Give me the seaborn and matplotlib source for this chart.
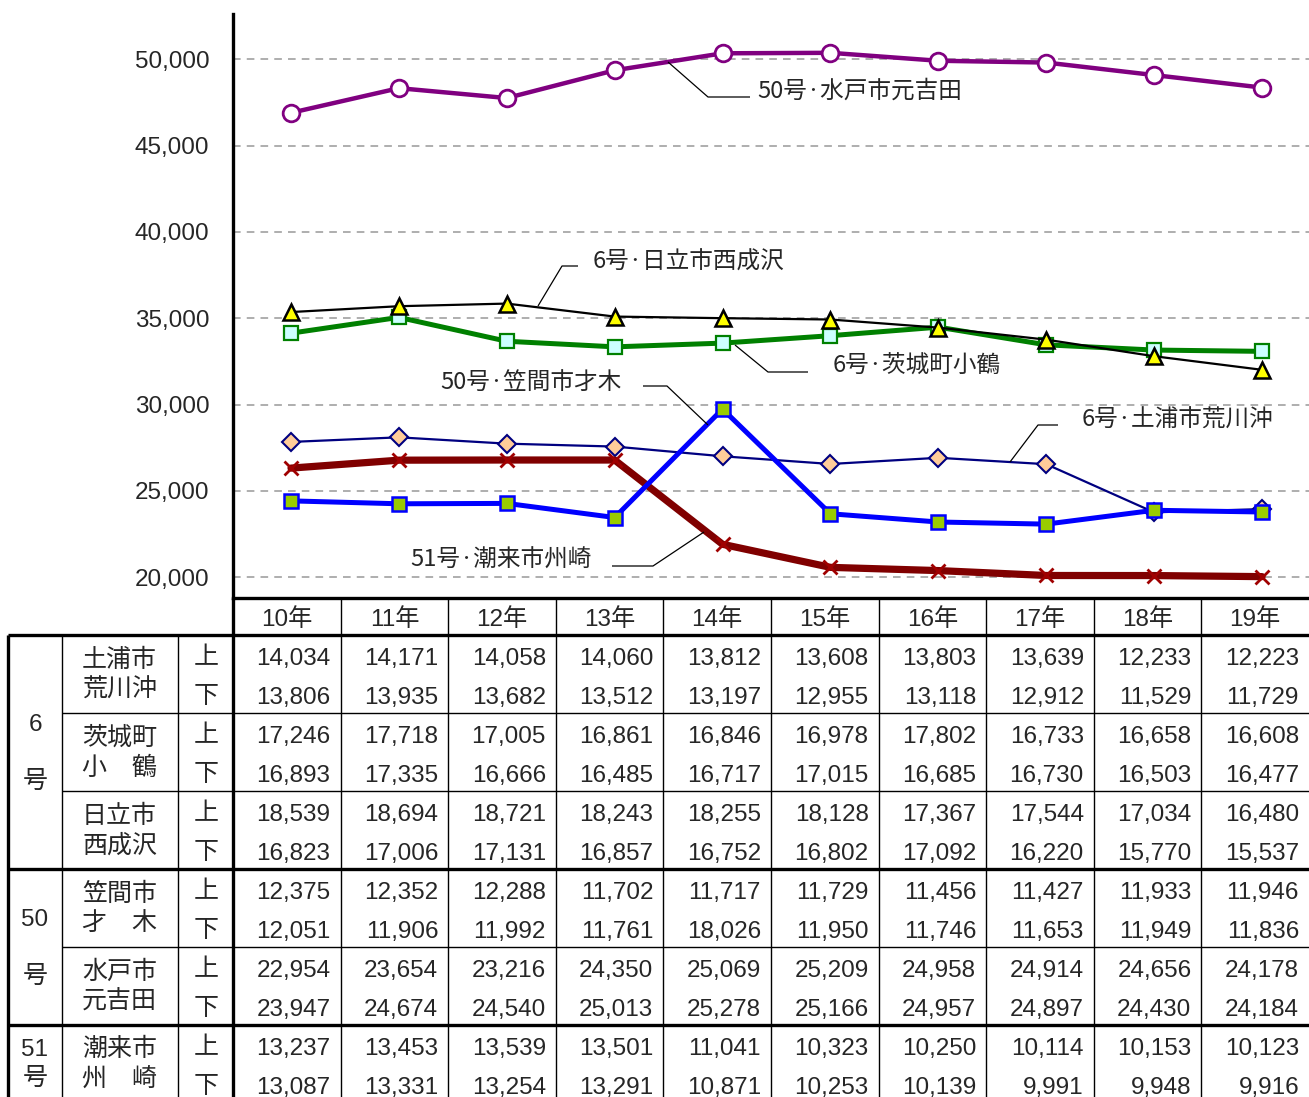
import matplotlib
matplotlib.use("Agg")
import matplotlib.pyplot as plt
import seaborn as sns
import pandas as pd

# ---------------- data ----------------
years = ['10年', '11年', '12年', '13年', '14年', '15年', '16年', '17年', '18年', '19年']

tsuchiura_up = [14034, 14171, 14058, 14060, 13812, 13608, 13803, 13639, 12233, 12223]
tsuchiura_dn = [13806, 13935, 13682, 13512, 13197, 12955, 13118, 12912, 11529, 11729]
ibaraki_up = [17246, 17718, 17005, 16861, 16846, 16978, 17802, 16733, 16658, 16608]
ibaraki_dn = [16893, 17335, 16666, 16485, 16717, 17015, 16685, 16730, 16503, 16477]
hitachi_up = [18539, 18694, 18721, 18243, 18255, 18128, 17367, 17544, 17034, 16480]
hitachi_dn = [16823, 17006, 17131, 16857, 16752, 16802, 17092, 16220, 15770, 15537]
kasama_up = [12375, 12352, 12288, 11702, 11717, 11729, 11456, 11427, 11933, 11946]
kasama_dn = [12051, 11906, 11992, 11761, 18026, 11950, 11746, 11653, 11949, 11836]
mito_up = [22954, 23654, 23216, 24350, 25069, 25209, 24958, 24914, 24656, 24178]
mito_dn = [23947, 24674, 24540, 25013, 25278, 25166, 24957, 24897, 24430, 24184]
itako_up = [13237, 13453, 13539, 13501, 11041, 10323, 10250, 10114, 10153, 10123]
itako_dn = [13087, 13331, 13254, 13291, 10871, 10253, 10139, 9991, 9948, 9916]

group_labels = [('6', '号'), ('50', '号'), ('51', '号')]
place_names = [('土浦市', '荒川沖'), ('茨城町', '小\u3000鶴'), ('日立市', '西成沢'),
               ('笠間市', '才\u3000木'), ('水戸市', '元吉田'), ('潮来市', '州\u3000崎')]
direction_labels = ['上', '下']
y_ticks = [20000, 25000, 30000, 35000, 40000, 45000, 50000]

series_labels = ['6号·土浦市荒川沖', '6号·茨城町小鶴', '6号·日立市西成沢',
                 '50号·笠間市才木', '50号·水戸市元吉田', '51号·潮来市州崎']

# ---------------- setup ----------------
sns.set_style("white")
plt.rcParams['font.family'] = ['Liberation Sans', 'Noto Sans CJK JP', 'DejaVu Sans']
CJK = ['Noto Sans CJK JP', 'DejaVu Sans']

W, H = 1309, 1097
fig = plt.figure(figsize=(W / 100, H / 100), dpi=100)

X0, XT = 233, 1309          # plot/table data area left/right (px)
Y_TOP, Y_AX = 14, 598        # plot top / plot bottom (px)
ax = fig.add_axes([X0 / W, 1 - Y_AX / H, (XT - X0) / W, (Y_AX - Y_TOP) / H])

ppk = 17.27  # pixels per 1000
step = (1262 - 291) / 9.0
ax.set_xlim(-(291 - X0) / step, 9 + (XT - 1262) / step)
ax.set_ylim(20000 - (Y_AX - 577.3) / ppk * 1000, 50000 + (59.3 - Y_TOP) / ppk * 1000)

x = list(range(len(years)))
rows = [
    (tsuchiura_up, tsuchiura_dn, dict(color='#000080', lw=1.6, marker='D', ms=9,
                                       mfc='#FFCC99', mec='#000080', mew=1.5), 3),
    (itako_up, itako_dn, dict(color='#800000', lw=5.2, marker='x', ms=10,
                               mfc='#A00000', mec='#A00000', mew=2), 4),
    (kasama_up, kasama_dn, dict(color='#0000FF', lw=3.6, marker='s', ms=10,
                                 mfc='#99CC00', mec='#0000FF', mew=1.8), 5),
    (ibaraki_up, ibaraki_dn, dict(color='#008000', lw=3.6, marker='s', ms=10,
                                   mfc='#CCFFFF', mec='#008000', mew=1.6), 6),
    (hitachi_up, hitachi_dn, dict(color='black', lw=1.6, marker='^', ms=12,
                                   mfc='#FFFF00', mec='black', mew=1.8), 7),
    (mito_up, mito_dn, dict(color='#800080', lw=3.2, marker='o', ms=12,
                             mfc='white', mec='#800080', mew=2), 8),
]
for up, dn, st, z in rows:
    tot = [a + b for a, b in zip(up, dn)]
    df = pd.DataFrame({'x': x, 'y': tot})
    sns.lineplot(data=df, x='x', y='y', ax=ax, color=st['color'], linewidth=st['lw'],
                 marker=st['marker'], markersize=st['ms'], markerfacecolor=st['mfc'],
                 markeredgecolor=st['mec'], markeredgewidth=st['mew'],
                 errorbar=None, sort=False, zorder=z)

ax.set_yticks(y_ticks)
ax.set_yticklabels([f'{v:,}' for v in y_ticks], fontsize=17.5)
ax.set_xticks([])
ax.set_xlabel('')
ax.set_ylabel('')
ax.tick_params(axis='y', length=0, pad=17)
ax.grid(axis='y', color='#999999', linestyle=(0, (5, 4)), linewidth=1.1)
ax.grid(axis='x', visible=False)
for s in ['top', 'right']:
    ax.spines[s].set_visible(False)
ax.spines['left'].set_linewidth(2.4)
ax.spines['left'].set_color('black')
ax.spines['bottom'].set_linewidth(2.4)
ax.spines['bottom'].set_color('black')
ax.patch.set_alpha(0)

# ---------------- overlay (pixel coords) ----------------
ov = fig.add_axes([0, 0, 1, 1], zorder=10)
ov.set_xlim(0, W)
ov.set_ylim(H, 0)
ov.axis('off')

def seg(pts, lw=1.0, c='black'):
    xs, ys = zip(*pts)
    ov.plot(xs, ys, color=c, lw=lw, solid_capstyle='butt', clip_on=False)

# annotations
ann = [
    (series_labels[4], [(668, 62), (708, 97), (750, 97)], (757, 91)),
    (series_labels[2], [(538, 306), (562, 266), (578, 266)], (593, 262)),
    (series_labels[1], [(735, 345), (768, 372), (808, 372)], (833, 366)),
    (series_labels[3], [(643, 386), (667, 386), (708, 425)], (440, 382)),
    (series_labels[0], [(1058, 425), (1038, 425), (1010, 462)], (1082, 420)),
    (series_labels[5], [(612, 566), (653, 566), (704, 532)], (410, 560)),
]
for txt, pts, (tx, ty) in ann:
    seg(pts, lw=0.9)
    ov.text(tx, ty, txt, fontsize=17, family=CJK, ha='left', va='center')

# table geometry
col_w = (XT - X0) / 10
RH = 38.95
R0 = 635
thick, thin = 2.4, 1.0

# header
for i, yl in enumerate(years):
    ov.text(X0 + col_w * (i + 0.5), 620, yl, fontsize=17.5, ha='center', va='center')

# numbers
all_rows = [tsuchiura_up, tsuchiura_dn, ibaraki_up, ibaraki_dn, hitachi_up, hitachi_dn,
            kasama_up, kasama_dn, mito_up, mito_dn, itako_up, itako_dn]
for r, vals in enumerate(all_rows):
    yc = R0 + RH * (r + 0.5) + 5
    for i, v in enumerate(vals):
        ov.text(X0 + col_w * (i + 1) - 10, yc, f'{v:,}', fontsize=17.5, ha='right', va='center')
    ov.text(206, yc - 2, direction_labels[r % 2], fontsize=18, family=CJK, ha='center', va='center')

# place names
for k, (a, b) in enumerate(place_names):
    yc = R0 + RH * (2 * k + 1)
    ov.text(82, yc - 14, a, fontsize=18, family=CJK, ha='left', va='center')
    ov.text(82, yc + 16, b, fontsize=18, family=CJK, ha='left', va='center')

# group labels
groups = [(0, 6), (6, 10), (10, 12)]
for (s, e), (a, b) in zip(groups, group_labels):
    yc = R0 + RH * (s + e) / 2
    off = 29 if e - s > 2 else 15
    ov.text(35, yc - off + 2, a, fontsize=17.5, ha='center', va='center')
    ov.text(35, yc + off, b, fontsize=18, family=CJK, ha='center', va='center')

# table lines
for i in range(1, 10):
    seg([(X0 + col_w * i, Y_AX), (X0 + col_w * i, H)], lw=thin)
seg([(62, R0), (62, H)], lw=thin)
seg([(178, R0), (178, H)], lw=thin)
for r in [2, 4, 8]:
    seg([(62, R0 + RH * r), (XT, R0 + RH * r)], lw=thin)
for r in [0, 6, 10]:
    seg([(8, R0 + RH * r), (XT, R0 + RH * r)], lw=thick)
seg([(8, R0), (8, H)], lw=thick)
seg([(X0, Y_AX), (X0, H)], lw=thick)

fig.savefig('out.png', dpi=100)
